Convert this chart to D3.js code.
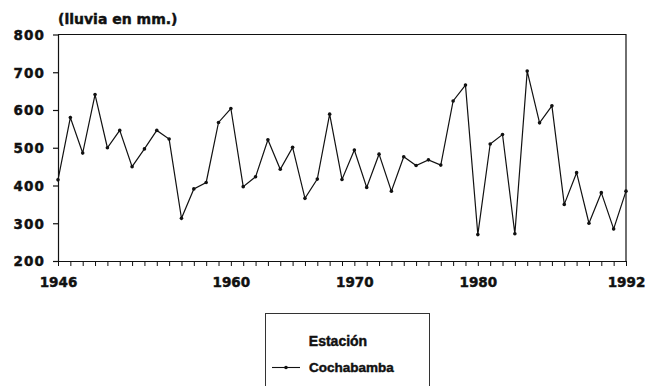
<!DOCTYPE html>
<html>
<head>
<meta charset="utf-8">
<script src="https://cdn.jsdelivr.net/npm/d3@7"></script>
<style>
  html, body { margin: 0; padding: 0; background: #fff; }
  svg { display: block; }
  .lbl { font-family: "DejaVu Sans", sans-serif; font-weight: bold; fill: #111; stroke: #111; stroke-width: 0.45px; }
  .leg { font-family: "Liberation Sans", Arial, sans-serif; font-weight: bold; fill: #111; stroke: #111; stroke-width: 0.45px; }
</style>
</head>
<body>
<script>
// Annual rainfall, Cochabamba station (mm)
const years = d3.range(1946, 1993);
const rainfall = [
  415, 580, 486, 641, 500, 546, 450, 497, 546, 523,
  313, 391, 408, 567, 604, 397, 423, 521, 443, 501,
  366, 417, 589, 416, 494, 395, 483, 385, 476, 453,
  468, 454, 624, 666, 270, 510, 535, 272, 703, 566,
  611, 350, 434, 300, 381, 285, 385
];
const yTicks = [200, 300, 400, 500, 600, 700, 800];
const xLabelYears = [1946, 1960, 1970, 1980, 1992];
const yTitle = "(lluvia en mm.)";
const legendTitle = "Estación";
const seriesName = "Cochabamba";

const W = 646, H = 386;
const svg = d3.select("body").append("svg").attr("width", W).attr("height", H);

const x = d3.scaleLinear().domain([1946, 1992]).range([58, 626]);
const y = d3.scaleLinear().domain([200, 800]).range([261, 34.5]);

const ink = "#111";

// frame: top and right edges
svg.append("path")
  .attr("d", `M${x(1946)},${y(800)}H${x(1992)}V${y(200)}`)
  .attr("fill", "none").attr("stroke", ink).attr("stroke-width", 1.2);

// left axis
const yAxis = svg.append("g").attr("transform", `translate(${x(1946)},0)`)
  .call(d3.axisLeft(y).tickValues(yTicks).tickSize(5).tickSizeOuter(0).tickFormat(d3.format("d")));
yAxis.select(".domain").attr("stroke", ink).attr("stroke-width", 1.2);
yAxis.selectAll(".tick line").attr("stroke", ink).attr("stroke-width", 1.2);
yAxis.selectAll(".tick text").attr("class", "lbl")
  .attr("x", -13).attr("dy", "0.36em")
  .style("font-size", "13.5px").style("letter-spacing", "1.1px");

// bottom axis: a tick per year, labels at selected years
const xAxis = svg.append("g").attr("transform", `translate(0,${y(200)})`)
  .call(d3.axisBottom(x).tickValues(years).tickSize(5).tickSizeOuter(0)
    .tickFormat(d => xLabelYears.includes(d) ? String(d) : ""));
xAxis.select(".domain").attr("stroke", ink).attr("stroke-width", 1.2);
xAxis.selectAll(".tick line").attr("stroke", ink).attr("stroke-width", 1);
xAxis.selectAll(".tick text").attr("class", "lbl")
  .attr("y", 16).attr("dy", "0.71em")
  .style("font-size", "13.5px");

// y-axis unit title
svg.append("text").attr("class", "lbl")
  .attr("x", x(1946)).attr("y", 24)
  .style("font-size", "14px")
  .text(yTitle);

// rainfall series
const pts = years.map((yr, i) => [yr, rainfall[i]]);
svg.append("path")
  .datum(pts)
  .attr("fill", "none").attr("stroke", ink).attr("stroke-width", 1.2)
  .attr("stroke-linejoin", "miter")
  .attr("d", d3.line().x(d => x(d[0])).y(d => y(d[1])));

svg.append("g").selectAll("circle")
  .data(pts).join("circle")
  .attr("cx", d => x(d[0])).attr("cy", d => y(d[1]))
  .attr("r", 1.8).attr("fill", ink);

// legend
const lg = svg.append("g");
lg.append("rect")
  .attr("x", 265.5).attr("y", 313.5).attr("width", 164).attr("height", 80)
  .attr("fill", "none").attr("stroke", "#333").attr("stroke-width", 1);
lg.append("text").attr("class", "leg")
  .attr("x", 338).attr("y", 346).attr("text-anchor", "middle")
  .style("font-size", "14px")
  .text(legendTitle);
lg.append("line")
  .attr("x1", 272).attr("x2", 300).attr("y1", 367.5).attr("y2", 367.5)
  .attr("stroke", ink).attr("stroke-width", 1.1);
lg.append("circle").attr("cx", 286).attr("cy", 367.5).attr("r", 1.8).attr("fill", ink);
lg.append("text").attr("class", "leg")
  .attr("x", 309).attr("y", 372)
  .style("font-size", "13.5px")
  .text(seriesName);
</script>
</body>
</html>
